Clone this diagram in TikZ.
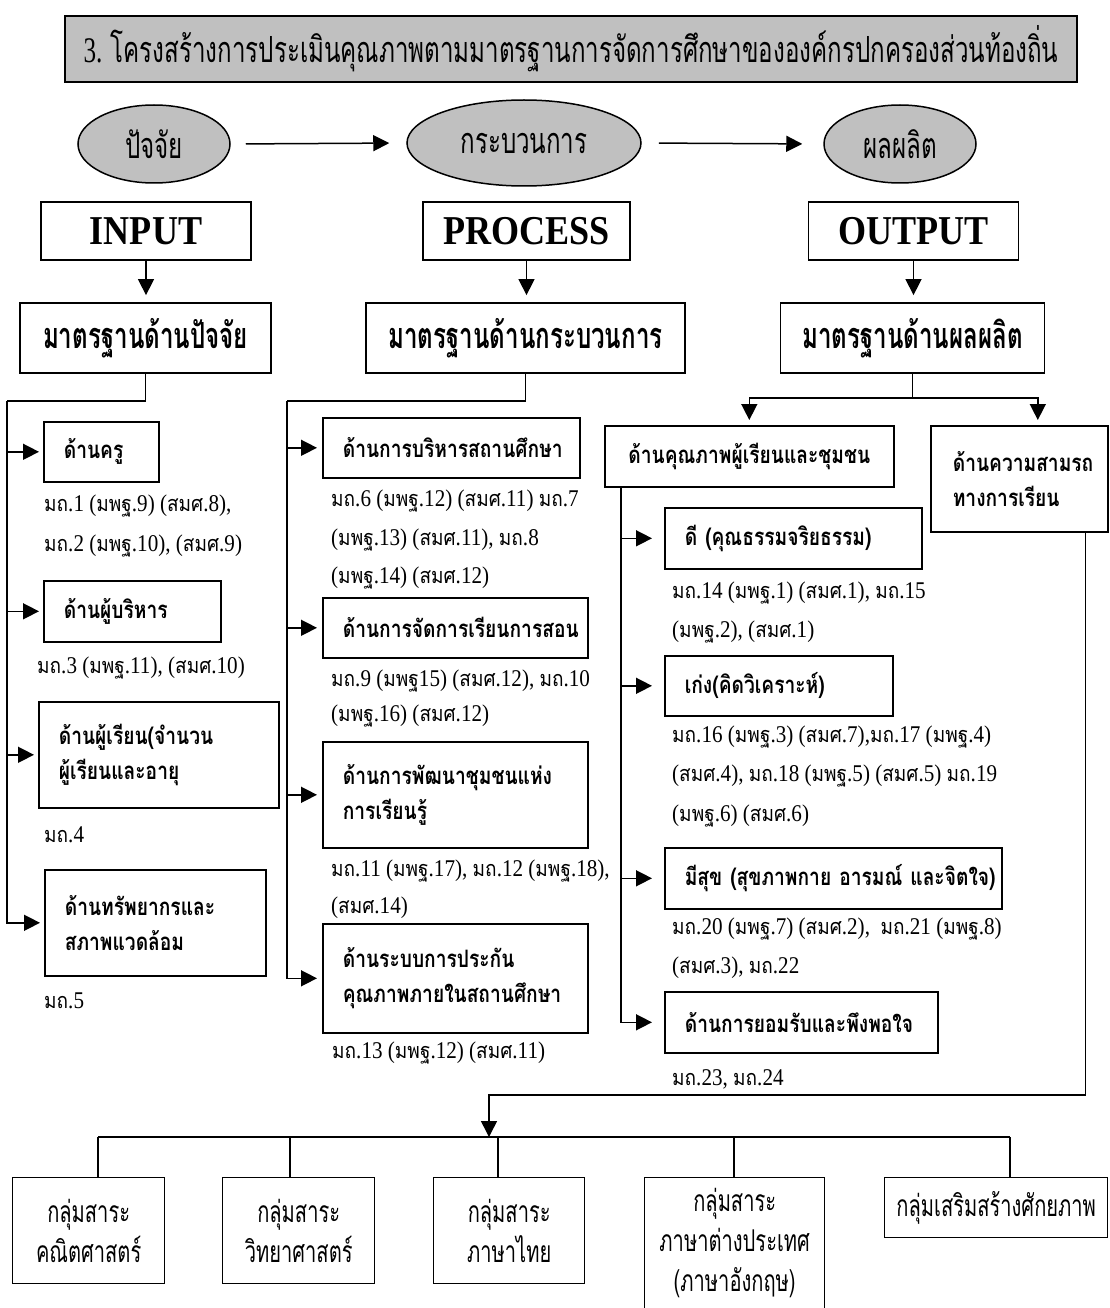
\documentclass[tikz,border=0pt]{standalone}
\usepackage{fontspec}
\setmainfont[FakeStretch=0.88]{Liberation Serif}
\newfontfamily\thai[Script=Thai,FakeStretch=0.8]{Loma}
\newfontfamily\thain[Script=Thai,FakeStretch=0.88,Scale=0.9]{Loma}
\newfontfamily\thaic[Script=Thai,FakeStretch=0.67]{Loma}
\newfontfamily\latc[FakeStretch=0.7]{Liberation Serif}
\newcommand\T[1]{{\thain #1}}
\usetikzlibrary{arrows.meta,shapes.geometric}
\definecolor{gfill}{HTML}{C0C0C0}
\tikzset{
  ln/.style={line width=1.5pt},
  arr/.style={line width=1.5pt,-{Triangle[length=16pt,width=16pt]}},
  tbox/.style={draw,line width=2pt,fill=gfill,inner sep=0pt},
  ell/.style={ellipse,draw,line width=1.5pt,fill=gfill,inner sep=0pt,font=\thaic\fontsize{36}{40}\selectfont},
  hd/.style={draw,line width=1.8pt,inner sep=0pt,minimum height=58pt,font=\fontsize{41}{44}\selectfont\bfseries},
  std/.style={draw,line width=1.8pt,inner sep=0pt,minimum height=70pt,font=\thaic\bfseries\fontsize{36}{40}\selectfont},
  lab/.style={draw,line width=1.6pt,anchor=north west,align=left,inner xsep=20pt,inner ysep=0pt,font=\thai\bfseries\fontsize{24}{35}\selectfont},
  labc/.style={lab,align=center},
  note/.style={anchor=base west,inner sep=0pt,font=\fontsize{24}{28}\selectfont},
  gb/.style={draw,line width=1.4pt,anchor=north west,align=center,inner sep=0pt,font=\thaic\fontsize{30}{40}\selectfont},
}
\begin{document}
\begin{tikzpicture}[x=1pt,y=-1pt]
\useasboundingbox (0,0) rectangle (1109,1308);
% title
\node[tbox,minimum width=1012pt,minimum height=66pt] (title) at (571,49)
  {\fontsize{36}{40}\selectfont\latc 3. \thaic โครงสร้างการประเมินคุณภาพตามมาตรฐานการจัดการศึกษาขององค์กรปกครองส่วนท้องถิ่น};
% ellipses
\node[ell,minimum width=152pt,minimum height=78pt] (e1) at (154,144) {ปัจจัย};
\node[ell,minimum width=234pt,minimum height=86pt] (e2) at (524,143) {กระบวนการ};
\node[ell,minimum width=152pt,minimum height=78pt] (e3) at (900,144) {ผลผลิต};
\draw[arr,shorten <=15pt,shorten >=17pt] (e1.east) -- (e2.west);
\draw[arr,shorten <=17pt,shorten >=21pt] (e2.east) -- (e3.west);
% heads
\node[hd,minimum width=210pt] (inp) at (146,231) {INPUT};
\node[hd,minimum width=207pt] (proc) at (526.5,231) {PROCESS};
\node[hd,minimum width=210pt] (outp) at (913.5,231) {OUTPUT};
% standards
\node[std,minimum width=251pt] (s1) at (145.5,338) {มาตรฐานด้านปัจจัย};
\node[std,minimum width=319pt] (s2) at (525.5,338) {มาตรฐานด้านกระบวนการ};
\node[std,minimum width=264pt] (s3) at (912.5,338) {มาตรฐานด้านผลผลิต};
\draw[arr,shorten >=7pt] (inp.south) -- (inp.south |- s1.north);
\draw[arr,shorten >=7pt] (proc.south) -- (proc.south |- s2.north);
\draw[arr,shorten >=7pt] (outp.south) -- (outp.south |- s3.north);
% input column
\node[lab,text width=75pt,minimum height=60pt] (b1) at (43,421) {ด้านครู};
\node[lab,text width=137pt,minimum height=61pt] (b2) at (43,580) {ด้านผู้บริหาร};
\node[lab,text width=200pt,minimum height=106pt] (b3) at (38,701) {ด้านผู้เรียน(จำนวน\\ผู้เรียนและอายุ};
\node[lab,text width=181pt,minimum height=106pt] (b4) at (44,869) {ด้านทรัพยากรและ\\สภาพแวดล้อม};
\node[note] (n1) at (44,511) {\T{มถ}.1 (\T{มพฐ}.9) (\T{สมศ}.8),};
\node[note] (n2) at (44,551) {\T{มถ}.2 (\T{มพฐ}.10), (\T{สมศ}.9)};
\node[note] (n3) at (37,673) {\T{มถ}.3 (\T{มพฐ}.11), (\T{สมศ}.10)};
\node[note] (n4) at (44,842) {\T{มถ}.4};
\node[note] (n5) at (44,1008) {\T{มถ}.5};
\coordinate (lsp) at (7,401);
\draw[ln] (s1.south) |- (lsp);
\foreach \b in {b1,b2,b3,b4} \draw[arr,shorten >=4pt] (lsp) |- (\b.west);
% process column
\node[lab,text width=217pt,minimum height=60pt] (p1) at (322,417) {ด้านการบริหารสถานศึกษา};
\node[lab,text width=225pt,minimum height=60pt] (p2) at (322,597) {ด้านการจัดการเรียนการสอน};
\node[lab,text width=225pt,minimum height=106pt] (p3) at (322,741) {ด้านการพัฒนาชุมชนแห่ง\\การเรียนรู้};
\node[lab,text width=225pt,minimum height=109pt] (p4) at (322,923) {ด้านระบบการประกัน\\คุณภาพภายในสถานศึกษา};
\node[note] (m1) at (331,506) {\T{มถ}.6 (\T{มพฐ}.12) (\T{สมศ}.11) \T{มถ}.7};
\node[note] (m2) at (331,545) {(\T{มพฐ}.13) (\T{สมศ}.11), \T{มถ}.8};
\node[note] (m3) at (331,583) {(\T{มพฐ}.14) (\T{สมศ}.12)};
\node[note] (m4) at (331,686) {\T{มถ}.9 (\T{มพฐ}15) (\T{สมศ}.12), \T{มถ}.10};
\node[note] (m5) at (331,721) {(\T{มพฐ}.16) (\T{สมศ}.12)};
\node[note] (m6) at (331,876) {\T{มถ}.11 (\T{มพฐ}.17), \T{มถ}.12 (\T{มพฐ}.18),};
\node[note] (m7) at (331,913) {(\T{สมศ}.14)};
\node[note] (m8) at (332,1058) {\T{มถ}.13 (\T{มพฐ}.12) (\T{สมศ}.11)};
\coordinate (psp) at (287,401);
\draw[ln] (s2.south) |- (psp);
\foreach \p in {p1,p2,p3,p4} \draw[arr,shorten >=5pt] (psp) |- (\p.west);
% output column
\node[labc,text width=249pt,minimum height=61pt] (o1) at (604,425) {ด้านคุณภาพผู้เรียนและชุมชน};
\node[lab,inner xsep=22pt,text width=133pt,minimum height=106pt] (o2) at (930,425) {ด้านความสามรถ\\ทางการเรียน};
\draw[arr,shorten >=5pt] (s3.south) -- ++(0,24) -| (o1.north);
\draw[arr,shorten >=5pt] (s3.south) -- ++(0,24) -| ([xshift=18.5pt]o2.north);
\node[lab,text width=217pt,minimum height=61pt] (q1) at (664,507) {ดี (คุณธรรมจริยธรรม)};
\node[lab,text width=188pt,minimum height=60pt] (q2) at (664,655) {เก่ง(คิดวิเคราะห์)};
\node[lab,text width=297pt,minimum height=61pt] (q3) at (664,847) {\mbox{มีสุข (สุขภาพกาย อารมณ์ และจิตใจ)}};
\node[lab,text width=233pt,minimum height=61pt] (q4) at (664,991) {ด้านการยอมรับและพึงพอใจ};
\node[note] (r1) at (672,598) {\T{มถ}.14 (\T{มพฐ}.1) (\T{สมศ}.1), \T{มถ}.15};
\node[note] (r2) at (672,637) {(\T{มพฐ}.2), (\T{สมศ}.1)};
\node[note] (r3) at (672,742) {\T{มถ}.16 (\T{มพฐ}.3) (\T{สมศ}.7),\T{มถ}.17 (\T{มพฐ}.4)};
\node[note] (r4) at (672,781) {(\T{สมศ}.4), \T{มถ}.18 (\T{มพฐ}.5) (\T{สมศ}.5) \T{มถ}.19};
\node[note] (r5) at (672,821) {(\T{มพฐ}.6) (\T{สมศ}.6)};
\node[note] (r6) at (672,934) {\T{มถ}.20 (\T{มพฐ}.7) (\T{สมศ}.2),\ \ \T{มถ}.21 (\T{มพฐ}.8)};
\node[note] (r7) at (672,973) {(\T{สมศ}.3), \T{มถ}.22};
\node[note] (r8) at (672,1085) {\T{มถ}.23, \T{มถ}.24};
\coordinate (qsp) at ([xshift=17pt]o1.south west);
\foreach \q in {q1,q2,q3,q4} \draw[arr,shorten >=12pt] (qsp) |- (\q.west);
% bottom
\node[gb,minimum width=152pt,minimum height=106pt] (g1) at (12,1177) {กลุ่มสาระ\\คณิตศาสตร์};
\node[gb,minimum width=152pt,minimum height=106pt] (g2) at (222,1177) {กลุ่มสาระ\\วิทยาศาสตร์};
\node[gb,minimum width=151pt,minimum height=106pt] (g3) at (433,1177) {กลุ่มสาระ\\ภาษาไทย};
\node[gb,minimum width=180pt,minimum height=131pt] (g4) at (644,1177) {กลุ่มสาระ\\ภาษาต่างประเทศ\\(ภาษาอังกฤษ)};
\node[gb,minimum width=223pt,minimum height=60pt] (g5) at (884,1177) {กลุ่มเสริมสร้างศักยภาพ};
\coordinate (rsp) at ([xshift=-23pt]o2.south east);
\coordinate (bj) at (489,1095);
\coordinate (bt) at (489,1137);
\draw[arr] (rsp) |- (bj) -- (bt);
\coordinate (d1) at (98,1137);
\coordinate (d2) at (290,1137);
\coordinate (d3) at (498,1137);
\coordinate (d4) at (734,1137);
\coordinate (d5) at (1010,1137);
\draw[ln] (d1) -- (d5);
\foreach \d/\g in {d1/g1,d2/g2,d3/g3,d4/g4,d5/g5} \draw[ln] (\d) -- (\d |- \g.north);
\end{tikzpicture}
\end{document}
